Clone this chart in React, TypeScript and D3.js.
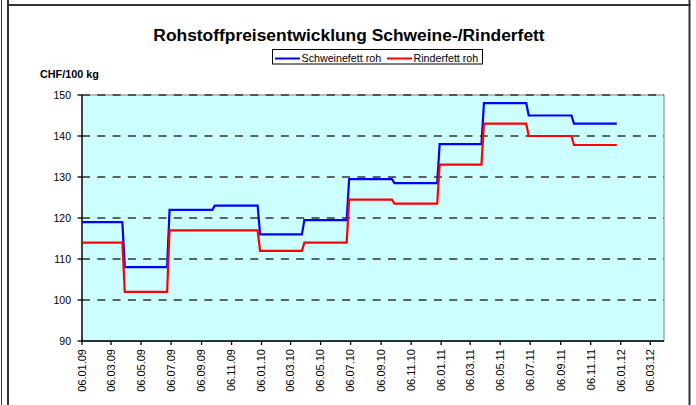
import React, { useEffect, useRef } from "react";
import * as d3 from "d3";

// x axis tick labels (every 2 months, on the 6th)
const tickLabels = [
  "06.01.09", "06.03.09", "06.05.09", "06.07.09", "06.09.09", "06.11.09",
  "06.01.10", "06.03.10", "06.05.10", "06.07.10", "06.09.10", "06.11.10",
  "06.01.11", "06.03.11", "06.05.11", "06.07.11", "06.09.11", "06.11.11",
  "06.01.12", "06.03.12",
];
const axisEnd = "03.04.12";

// quarterly price changes
const changeDates = [
  "06.01.09", "01.04.09", "01.07.09", "01.10.09", "01.01.10", "01.04.10",
  "01.07.10", "01.10.10", "01.01.11", "01.04.11", "01.07.11", "01.10.11",
];
const lastDate = "29.12.11";
const schweinefett = [119, 108, 122, 123, 116, 119.5, 129.5, 128.5, 138, 148, 145, 143];
const rinderfett = [114, 102, 117, 117, 112, 114, 124.5, 123.5, 133, 143, 140, 137.8];

const yTicks = [90, 100, 110, 120, 130, 140, 150];
const seriesNames = ["Schweinefett roh", "Rinderfett roh"];
const seriesColors = ["#0000ff", "#ff0000"];

const FONT = "'Liberation Sans', Arial, Helvetica, sans-serif";

export default function App() {
  const ref = useRef<SVGSVGElement>(null);

  useEffect(() => {
    const svg = d3.select(ref.current);
    svg.selectAll("*").remove();

    const parse = d3.timeParse("%d.%m.%y");
    const margin = { top: 95, left: 82, right: 664, bottom: 341 };

    // frame lines
    svg.append("line").attr("x1", 1.5).attr("x2", 1.5).attr("y1", 0).attr("y2", 405)
      .attr("stroke", "#333").attr("stroke-width", 1);
    svg.append("line").attr("x1", 8).attr("x2", 8).attr("y1", 0).attr("y2", 405)
      .attr("stroke", "#333").attr("stroke-width", 2);
    svg.append("line").attr("x1", 689.5).attr("x2", 689.5).attr("y1", 0).attr("y2", 405)
      .attr("stroke", "#333").attr("stroke-width", 2);
    svg.append("line").attr("x1", 7).attr("x2", 690.5).attr("y1", 5).attr("y2", 5)
      .attr("stroke", "#333").attr("stroke-width", 2);

    // title
    svg.append("text")
      .attr("x", 349).attr("y", 41)
      .attr("text-anchor", "middle")
      .attr("font-family", FONT).attr("font-size", "17.4px").attr("font-weight", "bold")
      .text("Rohstoffpreisentwicklung Schweine-/Rinderfett");

    // legend
    const lg = svg.append("g");
    lg.append("rect").attr("x", 272.5).attr("y", 49.5).attr("width", 210).attr("height", 14.5)
      .attr("fill", "white").attr("stroke", "black").attr("stroke-width", 1);
    const legendX = [275, 387];
    seriesNames.forEach((name, i) => {
      lg.append("line").attr("x1", legendX[i]).attr("x2", legendX[i] + 25)
        .attr("y1", 58.5).attr("y2", 58.5)
        .attr("stroke", seriesColors[i]).attr("stroke-width", 2);
      lg.append("text").attr("x", legendX[i] + 26.5).attr("y", 62)
        .attr("font-family", FONT).attr("font-size", "10.7px")
        .text(name);
    });

    // y unit label
    svg.append("text").attr("x", 40).attr("y", 77.5)
      .attr("font-family", FONT).attr("font-size", "10.8px").attr("font-weight", "bold")
      .text("CHF/100 kg");

    const x = d3.scaleTime()
      .domain([parse(tickLabels[0]) as Date, parse(axisEnd) as Date])
      .range([margin.left, margin.right]);
    const y = d3.scaleLinear().domain([90, 150]).range([margin.bottom, margin.top]);

    // plot area
    svg.append("rect")
      .attr("x", margin.left).attr("y", margin.top)
      .attr("width", margin.right - margin.left).attr("height", margin.bottom - margin.top)
      .attr("fill", "#ccffff").attr("stroke", "#808080").attr("stroke-width", 1);

    // gridlines
    svg.append("g").selectAll("line")
      .data(yTicks.filter((t) => t > 90))
      .join("line")
      .attr("x1", margin.left).attr("x2", margin.right)
      .attr("y1", (d) => y(d)).attr("y2", (d) => y(d))
      .attr("stroke", "#333").attr("stroke-width", 1.3)
      .attr("stroke-dasharray", "8,7.3");

    // y axis
    const yg = svg.append("g");
    yg.append("line").attr("x1", margin.left).attr("x2", margin.left)
      .attr("y1", margin.top).attr("y2", margin.bottom)
      .attr("stroke", "black").attr("stroke-width", 1.3);
    yg.selectAll("line.tick").data(yTicks).join("line").attr("class", "tick")
      .attr("x1", margin.left - 4.5).attr("x2", margin.left)
      .attr("y1", (d) => y(d)).attr("y2", (d) => y(d))
      .attr("stroke", "black").attr("stroke-width", 1.3);
    yg.selectAll("text").data(yTicks).join("text")
      .attr("x", 71).attr("y", (d) => y(d)).attr("dy", "0.35em")
      .attr("text-anchor", "end")
      .attr("font-family", FONT).attr("font-size", "10.5px")
      .text((d) => d);

    // x axis
    const tickDates = tickLabels.map((t) => parse(t) as Date);
    const xg = svg.append("g");
    xg.append("line").attr("x1", margin.left).attr("x2", margin.right)
      .attr("y1", margin.bottom).attr("y2", margin.bottom)
      .attr("stroke", "black").attr("stroke-width", 1.3);
    xg.selectAll("line.tick").data(tickDates).join("line").attr("class", "tick")
      .attr("x1", (d) => x(d)).attr("x2", (d) => x(d))
      .attr("y1", margin.bottom).attr("y2", margin.bottom + 4)
      .attr("stroke", "black").attr("stroke-width", 1.3);
    xg.selectAll("text").data(tickDates).join("text")
      .attr("transform", (d) => `translate(${x(d)}, 349) rotate(-90)`)
      .attr("dy", "0.35em")
      .attr("text-anchor", "end")
      .attr("font-family", FONT).attr("font-size", "11px")
      .text((d, i) => tickLabels[i]);

    // step lines
    const starts = changeDates.map((t) => parse(t) as Date);
    const last = parse(lastDate) as Date;
    const stepPoints = (values: number[]) => {
      const pts: [Date, number][] = [];
      values.forEach((v, i) => {
        const s = i === 0 ? starts[0] : d3.timeDay.offset(starts[i], 2);
        const e = i === values.length - 1 ? last : d3.timeDay.offset(starts[i + 1], -3);
        pts.push([s, v], [e, v]);
      });
      return pts;
    };
    const line = d3.line<[Date, number]>()
      .x((d) => x(d[0]))
      .y((d) => y(d[1]));

    [schweinefett, rinderfett].forEach((vals, i) => {
      svg.append("path")
        .datum(stepPoints(vals))
        .attr("d", line)
        .attr("fill", "none")
        .attr("stroke", seriesColors[i])
        .attr("stroke-width", 2.2);
    });
  }, []);

  return (
    <svg
      ref={ref}
      width={696}
      height={405}
      style={{ position: "absolute", left: 0, top: 0, background: "white" }}
    />
  );
}
